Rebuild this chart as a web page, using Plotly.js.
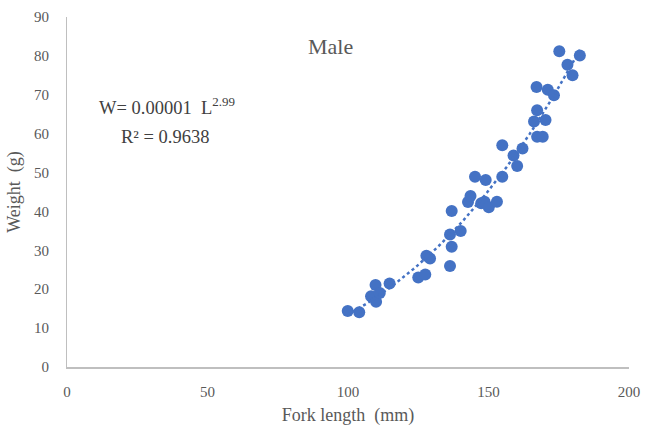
<!DOCTYPE html>
<html>
<head>
<meta charset="utf-8">
<script src="https://cdn.plot.ly/plotly-3.0.1.min.js"></script>
<style>html,body{margin:0;padding:0;background:#fff;}#chart{width:646px;height:433px;}</style>
</head>
<body>
<div id="chart"></div>
<script>
const forkLength = [99.9, 104.0, 108.2, 109.8, 110.0, 111.3, 114.8, 125.0, 127.5, 127.9, 129.2,
  136.3, 136.9, 136.3, 136.9, 140.1, 142.7, 143.6, 145.2, 147.4, 148.6, 149.0, 150.1, 153.0,
  154.9, 154.9, 158.9, 160.2, 162.1, 166.2, 167.1, 167.3, 167.3, 169.3, 170.3, 171.1, 173.3,
  175.2, 178.1, 179.9, 182.5];
const weight = [14.4, 14.1, 18.2, 21.1, 16.8, 19.0, 21.5, 23.0, 23.8, 28.6, 27.9,
  26.0, 30.9, 34.1, 40.1, 35.0, 42.4, 44.0, 48.9, 42.1, 42.5, 48.1, 41.1, 42.5,
  48.9, 57.0, 54.4, 51.7, 56.2, 63.1, 72.0, 66.0, 59.2, 59.2, 63.5, 71.3, 69.9,
  81.2, 77.7, 75.0, 80.1];
const xTicks = [0, 50, 100, 150, 200];
const yTicks = [0, 10, 20, 30, 40, 50, 60, 70, 80, 90];

// Power trendline (least squares in log space), as a spreadsheet trendline would do
const lx = forkLength.map(Math.log), ly = weight.map(Math.log);
const n = lx.length;
const mx = lx.reduce((a,b)=>a+b,0)/n, my = ly.reduce((a,b)=>a+b,0)/n;
let sxy = 0, sxx = 0;
for (let i=0;i<n;i++){ sxy += (lx[i]-mx)*(ly[i]-my); sxx += (lx[i]-mx)**2; }
const bExp = sxy/sxx, aCoef = Math.exp(my - bExp*mx);
const xMin = Math.min(...forkLength), xMax = Math.max(...forkLength);
const trendX = [], trendY = [];
for (let k=0;k<=60;k++){ const x = xMin + (xMax-xMin)*k/60; trendX.push(x); trendY.push(aCoef*Math.pow(x,bExp)); }

const serif = 'Liberation Serif, Times New Roman, serif';
const data = [
  {x: forkLength, y: weight, type: 'scatter', mode: 'markers',
   marker: {color: '#4472C4', size: 12}, showlegend: false, hoverinfo: 'x+y'},
  {x: trendX, y: trendY, type: 'scatter', mode: 'lines',
   line: {color: '#4472C4', width: 2.5, dash: 'dot'}, showlegend: false, hoverinfo: 'skip'}
];
const layout = {
  width: 646, height: 433,
  margin: {l: 67, r: 17, t: 17, b: 66},
  paper_bgcolor: '#fff', plot_bgcolor: '#fff',
  xaxis: {range: [0, 200], tickvals: xTicks, showgrid: false, zeroline: false,
    showline: true, linecolor: '#bfbfbf', linewidth: 1.5, ticks: '', ticklabelstandoff: 10,
    tickfont: {family: serif, size: 15, color: '#595959'},
    title: {text: 'Fork length  (mm)', font: {family: serif, size: 18, color: '#595959'}, standoff: 10}},
  yaxis: {range: [0, 90], tickvals: yTicks, showgrid: false, zeroline: false,
    showline: true, linecolor: '#bfbfbf', linewidth: 1, ticks: '', ticklabelstandoff: 14,
    tickfont: {family: serif, size: 15, color: '#595959'},
    title: {text: 'Weight  (g)', font: {family: serif, size: 18, color: '#595959'}, standoff: 8}},
  annotations: [
    {text: 'Male', xref: 'paper', yref: 'paper', x: 0.468, y: 0.917, xanchor: 'center', yanchor: 'middle',
     showarrow: false, font: {family: serif, size: 22, color: '#595959'}},
    {text: 'W= 0.00001  L<sup>2.99</sup>', xref: 'paper', yref: 'paper', x: 0.178, y: 0.745, xanchor: 'center', yanchor: 'middle',
     showarrow: false, font: {family: serif, size: 18.5, color: '#404040'}},
    {text: 'R² = 0.9638', xref: 'paper', yref: 'paper', x: 0.174, y: 0.657, xanchor: 'center', yanchor: 'middle',
     showarrow: false, font: {family: serif, size: 18.5, color: '#404040'}}
  ]
};
Plotly.newPlot('chart', data, layout, {displayModeBar: false, staticPlot: true});
</script>
</body>
</html>
